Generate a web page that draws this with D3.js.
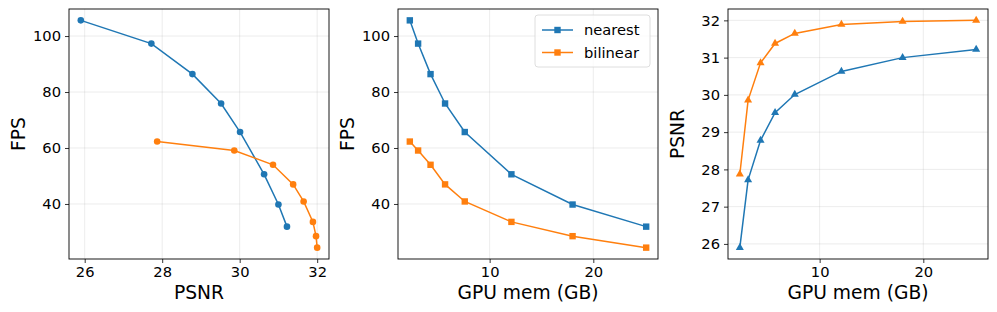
<!DOCTYPE html>
<html>
<head>
<meta charset="utf-8">
<script src="https://cdn.jsdelivr.net/npm/d3@7"></script>
<style>
  body { margin: 0; background: #fff; }
  svg { display: block; font-family: "DejaVu Sans", sans-serif; }
  .grid line { stroke: #b0b0b0; stroke-opacity: 0.3; stroke-width: 0.8; }
  .axis line { stroke: #000; stroke-width: 0.8; }
  .axis path { display: none; }
  .axis-label { font-size: 18.7px; fill: #000; }
  .spine { fill: none; stroke: #000; stroke-width: 0.9; }
</style>
</head>
<body>
<svg id="chart" width="997" height="312"></svg>
<script>
// values
var gpuMem = [2.3, 3.1, 4.3, 5.7, 7.6, 12.1, 18.0, 25.1];
var psnrNearest = [25.9, 27.72, 28.78, 29.52, 30.01, 30.63, 31.0, 31.22];
var psnrBilinear = [27.87, 29.86, 30.86, 31.38, 31.65, 31.89, 31.97, 32.0];
var fpsNearest = [105.6, 97.3, 86.4, 75.9, 65.7, 50.6, 39.8, 31.9];
var fpsBilinear = [62.3, 59.1, 54.0, 47.0, 40.9, 33.6, 28.5, 24.4];

var seriesNames = ['nearest', 'bilinear'];
var seriesColors = ['#1f77b4', '#ff7f0e'];

var psnrTicks = [26, 28, 30, 32];
var psnrTicksY = [26, 27, 28, 29, 30, 31, 32];
var fpsTicks = [40, 60, 80, 100];
var memTicks = [10, 20];

var panelTop = 9;
var panelH = 250;
var panelW = 260;

function padded(values) {
  var ext = d3.extent(values);
  var m = (ext[1] - ext[0]) * 0.05;
  return [ext[0] - m, ext[1] + m];
}

function zip(xs, ys) {
  return xs.map(function(x, i) { return [x, ys[i]]; });
}

function drawMarker(g, shape, color) {
  if (shape === 'circle') {
    g.append('circle').attr('r', 3.3).attr('fill', color);
  } else if (shape === 'square') {
    g.append('rect')
      .attr('x', -3.2).attr('y', -3.2)
      .attr('width', 6.4).attr('height', 6.4)
      .attr('fill', color)
    ;
  } else {
    g.append('path')
      .attr('d', d3.symbol().type(d3.symbolTriangle).size(28)())
      .attr('fill', color)
    ;
  }
}

function styleTicks(sel) {
  sel.attr('font-family', null).attr('font-size', null);
  sel.selectAll('text')
    .style('font-family', '"DejaVu Sans", sans-serif')
    .style('font-size', '14.7px')
    .attr('fill', '#000')
  ;
}

function drawPanel(svg, opts) {
  var x = d3.scaleLinear()
    .domain(padded(opts.series[0].x.concat(opts.series[1].x)))
    .range([0, panelW]);
  var y = d3.scaleLinear()
    .domain(padded(opts.series[0].y.concat(opts.series[1].y)))
    .range([panelH, 0]);

  var g = svg
    .append('g')
    .attr('transform', 'translate(' + opts.left + ',' + panelTop + ')')
  ;

  // grid
  var grid = g.append('g').attr('class', 'grid');
  grid.selectAll('line.gx')
    .data(opts.xTicks)
    .enter()
    .append('line')
    .attr('class', 'gx')
    .attr('x1', function(d) { return x(d); })
    .attr('x2', function(d) { return x(d); })
    .attr('y1', 0)
    .attr('y2', panelH)
  ;
  grid.selectAll('line.gy')
    .data(opts.yTicks)
    .enter()
    .append('line')
    .attr('class', 'gy')
    .attr('x1', 0)
    .attr('x2', panelW)
    .attr('y1', function(d) { return y(d); })
    .attr('y2', function(d) { return y(d); })
  ;

  // axes
  g.append('g')
    .attr('class', 'axis')
    .attr('transform', 'translate(0,' + panelH + ')')
    .call(d3.axisBottom(x).tickValues(opts.xTicks).tickSize(4).tickPadding(4).tickFormat(d3.format('d')))
    .call(styleTicks)
  ;
  g.append('g')
    .attr('class', 'axis')
    .call(d3.axisLeft(y).tickValues(opts.yTicks).tickSize(4).tickPadding(4).tickFormat(d3.format('d')))
    .call(styleTicks)
  ;

  var line = d3.line()
    .x(function(d) { return x(d[0]); })
    .y(function(d) { return y(d[1]); })
  ;

  opts.series.forEach(function(s, i) {
    var pts = zip(s.x, s.y);
    g.append('path')
      .datum(pts)
      .attr('fill', 'none')
      .attr('stroke', seriesColors[i])
      .attr('stroke-width', 1.5)
      .attr('d', line)
    ;
    g.append('g')
      .selectAll('g')
      .data(pts)
      .enter()
      .append('g')
      .attr('transform', function(d) { return 'translate(' + x(d[0]) + ',' + y(d[1]) + ')'; })
      .each(function() { drawMarker(d3.select(this), opts.marker, seriesColors[i]); })
    ;
  });

  g.append('rect')
    .attr('class', 'spine')
    .attr('width', panelW)
    .attr('height', panelH)
  ;

  g.append('text')
    .attr('class', 'axis-label')
    .attr('x', panelW / 2)
    .attr('y', 290)
    .attr('text-anchor', 'middle')
    .text(opts.xLabel)
  ;
  g.append('text')
    .attr('class', 'axis-label')
    .attr('transform', 'translate(' + opts.yLabelX + ',' + (panelH / 2) + ') rotate(-90)')
    .attr('text-anchor', 'middle')
    .text(opts.yLabel)
  ;

  if (opts.legend) {
    var lg = g.append('g').attr('transform', 'translate(137,6)');
    lg.append('rect')
      .attr('width', 115)
      .attr('height', 52)
      .attr('rx', 3)
      .attr('fill', '#fff')
      .attr('fill-opacity', 0.8)
      .attr('stroke', '#d5d5d5')
      .attr('stroke-width', 0.8)
    ;
    seriesNames.forEach(function(name, i) {
      var row = lg.append('g').attr('transform', 'translate(0,' + (15 + i * 22.5) + ')');
      row.append('line')
        .attr('x1', 7).attr('x2', 38)
        .attr('stroke', seriesColors[i])
        .attr('stroke-width', 1.5)
      ;
      var mk = row.append('g').attr('transform', 'translate(22.5,0)');
      drawMarker(mk, opts.marker, seriesColors[i]);
      row.append('text')
        .attr('x', 49)
        .attr('y', 5.3)
        .style('font-size', '14.7px')
        .text(name)
      ;
    });
  }
}

var svg = d3.select('#chart');

drawPanel(svg, {
  left: 69,
  marker: 'circle',
  series: [
    { x: psnrNearest, y: fpsNearest },
    { x: psnrBilinear, y: fpsBilinear }
  ],
  xTicks: psnrTicks,
  yTicks: fpsTicks,
  xLabel: 'PSNR',
  yLabel: 'FPS',
  yLabelX: -44
});

drawPanel(svg, {
  left: 398,
  marker: 'square',
  legend: true,
  series: [
    { x: gpuMem, y: fpsNearest },
    { x: gpuMem, y: fpsBilinear }
  ],
  xTicks: memTicks,
  yTicks: fpsTicks,
  xLabel: 'GPU mem (GB)',
  yLabel: 'FPS',
  yLabelX: -44
});

drawPanel(svg, {
  left: 728,
  marker: 'triangle',
  series: [
    { x: gpuMem, y: psnrNearest },
    { x: gpuMem, y: psnrBilinear }
  ],
  xTicks: memTicks,
  yTicks: psnrTicksY,
  xLabel: 'GPU mem (GB)',
  yLabel: 'PSNR',
  yLabelX: -44
});
</script>
</body>
</html>
